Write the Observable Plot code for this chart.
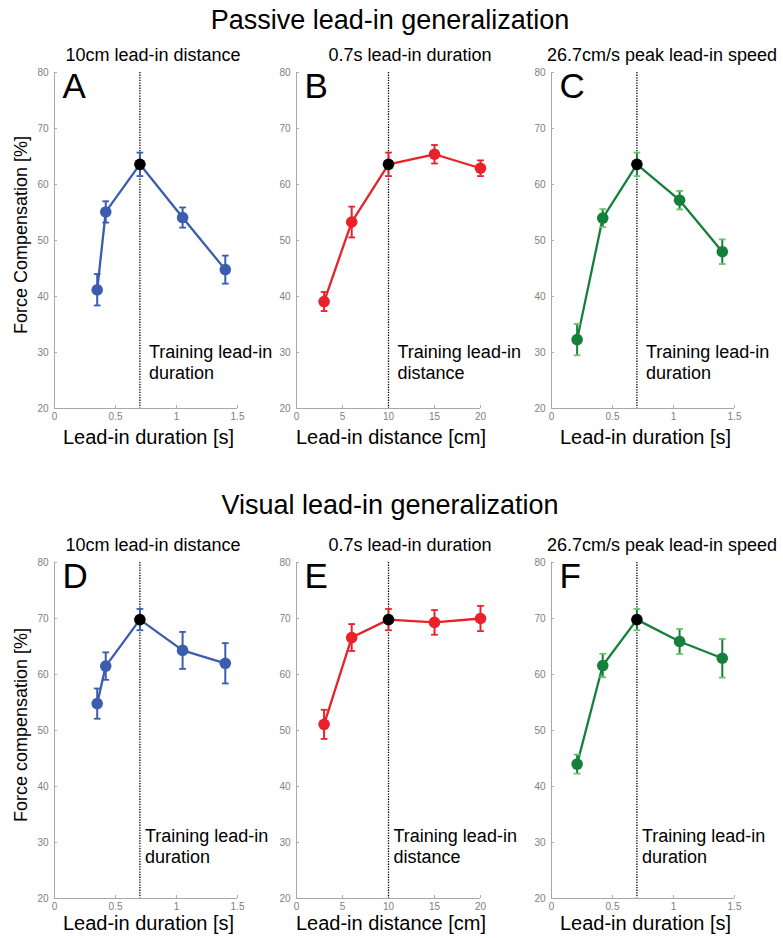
<!DOCTYPE html>
<html>
<head>
<meta charset="utf-8">
<script src="https://cdn.jsdelivr.net/npm/d3@7"></script>
<script src="https://cdn.jsdelivr.net/npm/@observablehq/plot@0.6"></script>
<style>
  body { margin: 0; background: #fff; font-family: "Liberation Sans", Arial, Helvetica, sans-serif; }
  #root { position: relative; width: 783px; height: 938px; overflow: hidden; }
  .abs { position: absolute; white-space: nowrap; color: #000; }
  .title { font-size: 27px; transform: translate(-50%, -50%); }
  .sub { font-size: 18px; transform: translate(-50%, -50%); }
  .xlab { font-size: 20px; transform: translate(-50%, -50%); }
  .ylab { font-size: 18px; transform: translate(-50%, -50%) rotate(-90deg); }
  svg { position: absolute; overflow: visible; }
</style>
</head>
<body>
<div id="root"></div>
<script>
// ---------- data ----------
const durationX = [0.35, 0.42, 0.7, 1.05, 1.4];      // panels A, D
const distanceX = [3, 6, 10, 15, 20];                // panels B, E
const speedDurationX = [0.21, 0.42, 0.7, 1.05, 1.4]; // panels C, F

const passiveA = [41.2, 55.1, 63.6, 54.1, 44.8];
const passiveAErr = [2.8, 1.9, 2.1, 1.8, 2.5];
const passiveB = [39.1, 53.3, 63.6, 65.4, 62.9];
const passiveBErr = [1.7, 2.75, 2.1, 1.65, 1.4];
const passiveC = [32.3, 54.0, 63.6, 57.2, 48.0];
const passiveCErr = [2.8, 1.6, 2.1, 1.65, 2.2];

const visualD = [54.8, 61.5, 69.8, 64.3, 62.0];
const visualDErr = [2.7, 2.45, 1.9, 3.3, 3.6];
const visualE = [51.1, 66.6, 69.8, 69.3, 70.0];
const visualEErr = [2.6, 2.4, 1.9, 2.2, 2.25];
const visualF = [44.0, 61.6, 69.8, 65.9, 62.9];
const visualFErr = [1.7, 2.1, 1.9, 2.25, 3.45];

const trainingDuration = 0.7;
const trainingDistance = 10;

const durationTicks = [0, 0.5, 1, 1.5];
const distanceTicks = [0, 5, 10, 15, 20];
const yTicks = [20, 30, 40, 50, 60, 70, 80];

const rowTitles = ["Passive lead-in generalization", "Visual lead-in generalization"];
const colSubtitles = ["10cm lead-in distance", "0.7s lead-in duration", "26.7cm/s peak lead-in speed"];
const xLabels = ["Lead-in duration [s]", "Lead-in distance [cm]", "Lead-in duration [s]"];
const yLabels = ["Force Compensation [%]", "Force compensation [%]"];
const letters = [["A", "B", "C"], ["D", "E", "F"]];
const annotations = ["Training lead-in\nduration", "Training lead-in\ndistance", "Training lead-in\nduration"];
const annotationY = [28.4, 29.5]; // centre of the two-line note, per row

const colors = ["#3a5dae", "#e8212a", "#158039"];
const capColors = ["#3a5dae", "#e8212a", "#6cc26c"];

// ---------- layout ----------
const colX = [[54, 237], [296, 480], [551, 734]];
const rowY = [[72, 408], [562, 898]];
const titleY = [20, 505];
const subY = [55, 545];
const subX = [153, 410, 662];
const xlabY = [437, 923];
const annotDx = [9, 5];

const root = document.getElementById("root");
function addDiv(cls, text, x, y) {
  const d = document.createElement("div");
  d.className = "abs " + cls;
  d.textContent = text;
  d.style.left = x + "px";
  d.style.top = y + "px";
  root.appendChild(d);
}

const capSymbol = {
  draw(ctx, size) {
    const w = Math.sqrt(size) / 2;
    ctx.moveTo(-w, 0);
    ctx.lineTo(w, 0);
  }
};

const xs = [durationX, distanceX, speedDurationX];
const ys = [[passiveA, passiveB, passiveC], [visualD, visualE, visualF]];
const es = [[passiveAErr, passiveBErr, passiveCErr], [visualDErr, visualEErr, visualFErr]];
const trainX = [trainingDuration, trainingDistance, trainingDuration];
const xDomains = [[0, 1.5], [0, 20], [0, 1.5]];
const xTickSets = [durationTicks, distanceTicks, durationTicks];
const fmt = d => String(d);

for (let r = 0; r < 2; r++) {
  addDiv("title", rowTitles[r], 390, titleY[r]);
  addDiv("ylab", yLabels[r], 21, (rowY[r][0] + rowY[r][1]) / 2 - 5);
  for (let c = 0; c < 3; c++) {
    const [x0, x1] = colX[c];
    const [y0, y1] = rowY[r];
    const mL = 50, mR = 14, mT = 8, mB = 22;
    const data = xs[c].map((x, i) => ({
      x, y: ys[r][c][i], lo: ys[r][c][i] - es[r][c][i], hi: ys[r][c][i] + es[r][c][i],
      train: x === trainX[c]
    }));
    const col = colors[c], cap = capColors[c];
    const plot = Plot.plot({
      width: (x1 - x0) + mL + mR,
      height: (y1 - y0) + mT + mB,
      marginLeft: mL, marginRight: mR, marginTop: mT, marginBottom: mB,
      style: { fontFamily: "'Liberation Sans', Arial, Helvetica, sans-serif", background: "transparent", overflow: "visible" },
      x: { domain: xDomains[c] },
      y: { domain: [20, 80] },
      marks: [
        Plot.axisX(xTickSets[c], { tickSize: -3, tickPadding: 7, stroke: "#b0b0b0", fill: "#808080", fontSize: 10, label: null, tickFormat: fmt }),
        Plot.axisY(yTicks, { tickSize: -3, tickPadding: 9, stroke: "#b0b0b0", fill: "#808080", fontSize: 10, label: null, tickFormat: fmt }),
        Plot.ruleX([xDomains[c][0]], { stroke: "#a8a8a8", strokeWidth: 1 }),
        Plot.ruleY([20], { stroke: "#a8a8a8", strokeWidth: 1 }),
        Plot.ruleX([trainX[c]], { stroke: "#000", strokeWidth: 1.3, strokeDasharray: "1.3,1.3" }),
        Plot.text([annotations[c]], {
          x: trainX[c], y: annotationY[r], dx: annotDx[r], textAnchor: "start", lineAnchor: "middle",
          fontSize: 18, lineHeight: 1.17, fill: "#000"
        }),
        Plot.text([letters[r][c]], {
          frameAnchor: "top-left", dx: 8, dy: 1, textAnchor: "start", lineAnchor: "top",
          fontSize: 35, fill: "#000"
        }),
        Plot.line(data, { x: "x", y: "y", stroke: col, strokeWidth: 2.3 }),
        Plot.ruleX(data, { x: "x", y1: "lo", y2: "hi", stroke: col, strokeWidth: 2 }),
        Plot.dot(data, { x: "x", y: "hi", symbol: capSymbol, r: 3.8, stroke: cap, strokeWidth: 1.8, fill: "none" }),
        Plot.dot(data, { x: "x", y: "lo", symbol: capSymbol, r: 3.8, stroke: cap, strokeWidth: 1.8, fill: "none" }),
        Plot.dot(data.filter(d => !d.train), { x: "x", y: "y", r: 5.8, fill: col, stroke: "none" }),
        Plot.dot(data.filter(d => d.train), { x: "x", y: "y", r: 5.8, fill: "#000", stroke: "none" })
      ]
    });
    plot.style.left = (x0 - mL) + "px";
    plot.style.top = (y0 - mT) + "px";
    root.appendChild(plot);
    addDiv("sub", colSubtitles[c], subX[c], subY[r]);
    addDiv("xlab", xLabels[c], (x0 + x1) / 2 + 3, xlabY[r]);
  }
}
</script>
</body>
</html>
